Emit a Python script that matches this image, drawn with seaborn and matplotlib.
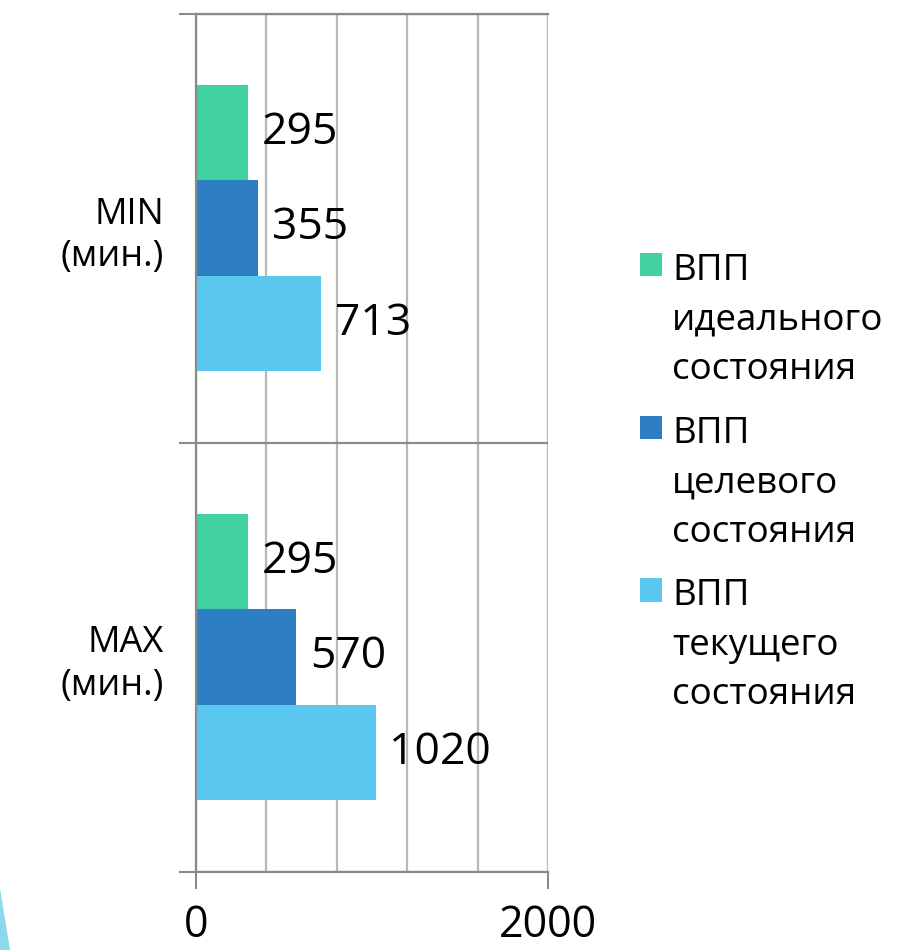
import numpy as np
import pandas as pd
import matplotlib
matplotlib.use('Agg')
import matplotlib.pyplot as plt
import seaborn as sns
from matplotlib.patches import Patch, Polygon
from matplotlib.ticker import MultipleLocator

# ---- data ----
categories = ['MIN\n(мин.)', 'MAX\n(мин.)']
series = ['ВПП\nидеального\nсостояния', 'ВПП\nцелевого\nсостояния', 'ВПП\nтекущего\nсостояния']
ideal = [295, 295]
target = [355, 570]
current = [713, 1020]
x_ticks = [0, 2000]
x_ticklabels = ['0', '2000']
colors = ['#41D1A1', '#2E7EC4', '#5AC8EE']

sns.set_theme(style='white')
plt.rcParams['font.family'] = ['Open Sans', 'DejaVu Sans']

df = pd.DataFrame({
    'cat': categories * 3,
    'series': np.repeat(series, len(categories)),
    'val': ideal + target + current,
})

W, H = 903, 950
fig = plt.figure(figsize=(W / 100, H / 100), dpi=100)
fig.patch.set_facecolor('white')
ax = fig.add_axes([196 / W, 1 - 871.5 / H, (548 - 196) / W, (871.5 - 13.5) / H])

sns.barplot(data=df, y='cat', x='val', hue='series', hue_order=series, order=categories,
            palette=colors, orient='h', width=2 / 3, saturation=1, linewidth=0,
            ax=ax, legend=False)

ax.set_xlim(0, 2000)
ax.set_ylim(1.5, -0.5)
ax.set_xlabel('')
ax.set_ylabel('')

axis_gray = '#8a8a8a'
grid_gray = '#b8b8b8'

ax.set_xticks(x_ticks)
ax.set_xticklabels(x_ticklabels)
ax.xaxis.set_minor_locator(MultipleLocator(400))
ax.tick_params(axis='x', which='major', bottom=True, length=12, width=1.5, color=axis_gray,
               pad=11, labelsize=31, labelcolor='black')
ax.tick_params(axis='x', which='minor', bottom=False, length=0)

ax.set_yticks([-0.5, 0.5, 1.5])
ax.set_yticklabels([])
ax.set_yticks([0, 1], minor=True)
ax.set_yticklabels(categories, minor=True)
ax.tick_params(axis='y', which='major', left=True, length=12, width=1.5, color=axis_gray)
ax.tick_params(axis='y', which='minor', left=False, length=0, pad=23, labelsize=26,
               labelcolor='black')
for t in ax.get_yticklabels(minor=True):
    t.set_linespacing(1.25)

ax.set_axisbelow(True)
ax.grid(axis='x', which='both', color=grid_gray, linewidth=1.6)
ax.grid(axis='y', which='major', color=axis_gray, linewidth=1.6)

for side in ['left', 'top', 'bottom']:
    ax.spines[side].set_visible(True)
    ax.spines[side].set_color(axis_gray)
    ax.spines[side].set_linewidth(1.6)
ax.spines['right'].set_visible(False)

for c in ax.containers:
    ax.bar_label(c, fmt='%d', padding=10, fontsize=32, color='black')

handles = [Patch(facecolor=c, edgecolor='none') for c in colors]
leg = fig.legend(handles, series, loc='upper left', bbox_to_anchor=(640 / W, 1 - 253 / H),
                 frameon=False, fontsize=26.5, handlelength=0.6, handleheight=0.6,
                 handletextpad=0.27, labelspacing=0.75, borderpad=0, borderaxespad=0)
for t in leg.get_texts():
    t.set_linespacing(1.5)
    t.set_color('black')
for col in leg._legend_handle_box.get_children():
    for item in col.get_children():
        item.align = 'top'

# decorative slide stripe at bottom-left
fig.patches.append(Polygon([[0, 1 - 888 / H], [10 / W, 0], [0, 0]], closed=True,
                           transform=fig.transFigure, facecolor='#8ED7F0', edgecolor='none'))

fig.savefig('out.png', dpi=100, facecolor='white')
